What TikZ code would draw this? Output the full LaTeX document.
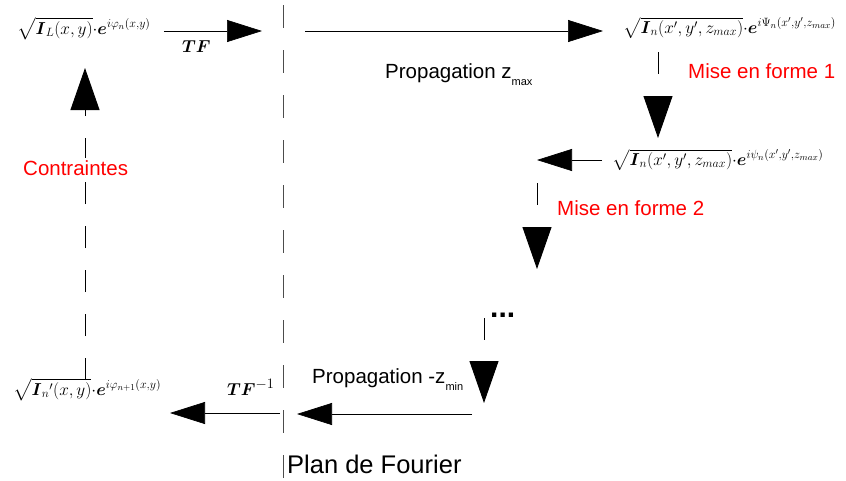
\documentclass[tikz,border=0pt]{standalone}
\usepackage{amsmath,amssymb}
\usepackage{fontspec}
\setmainfont{Liberation Sans}
\usetikzlibrary{arrows.meta,positioning}
\tikzset{
  harrow/.style={-{Triangle[length=35pt,width=22pt]}, line width=0.7pt},
  varrow/.style={-{Triangle[length=42pt,width=29pt]}, line width=0.9pt,
    dash pattern=on 22pt off 22pt},
  fourier/.style={line width=0.9pt, black!70, dash pattern=on 23pt off 22pt},
  fml/.style={inner sep=0pt, anchor=base west, font=\fontsize{18.5}{22}\selectfont},
  fmlr/.style={fml, font=\fontsize{17.3}{20}\selectfont},
  lbl/.style={inner sep=0pt, anchor=base west, font=\fontsize{20.5}{24}\selectfont},
  redlbl/.style={lbl, text=red},
  tfl/.style={inner sep=0pt, anchor=base west, font=\fontsize{19}{22}\selectfont}
}
\newcommand{\lowsub}[1]{\raisebox{-7pt}{\fontsize{11}{12}\selectfont #1}}

\begin{document}
\begin{tikzpicture}[x=1pt, y=-1pt]
  \useasboundingbox (0,0) rectangle (846,480);
  % formulas
  \node[fml] (fL) at (17,34) {$\sqrt{\boldsymbol{I}_L(x,y)}{\cdot}\boldsymbol{e}^{i\varphi_n(x,y)}$};
  \node[fmlr] (fTop) at (623,33) {$\sqrt{\boldsymbol{I}_n(x',y',z_{max})}{\cdot}\boldsymbol{e}^{i\Psi_n(x',y',z_{max})}$};
  \node[fmlr] (fMid) at (612,165) {$\sqrt{\boldsymbol{I}_n(x',y',z_{max})}{\cdot}\boldsymbol{e}^{i\psi_n(x',y',z_{max})}$};
  \node[fml] (fBot) at (13,395) {$\sqrt{\boldsymbol{I}_n{}'(x,y)}{\cdot}\boldsymbol{e}^{i\varphi_{n+1}(x,y)}$};
  % Fourier plane and free ends
  \coordinate (ftop) at (283,5);
  \coordinate (fbot) at (283,478);
  \coordinate (t1) at (262,31);
  \coordinate (t2) at (305,31);
  \coordinate (v1a) at (658,52);
  \coordinate (v1b) at (658,138);
  \coordinate (m1) at (537,160);
  \coordinate (v2a) at (537,183);
  \coordinate (v2b) at (537,269);
  \coordinate (v3a) at (484,318);
  \coordinate (v3b) at (484,403);
  \coordinate (b1) at (472,414);
  \coordinate (b2) at (297,414);
  \coordinate (b3) at (280,413);
  \coordinate (b4) at (170,413);
  \coordinate (ca) at (85,380);
  \coordinate (cb) at (85,68);
  \draw[fourier] (ftop) -- (fbot);
  % connectors
  \draw[harrow] (fL.east |- t1) ++(13,0) -- (t1);
  \draw[harrow, shorten >=20pt] (t2) -- (t2 -| fTop.west);
  \draw[varrow] (v1a) -- (v1b);
  \draw[harrow, shorten <=10pt] (fMid.west |- m1) -- (m1);
  \draw[varrow] (v2a) -- (v2b);
  \draw[varrow] (v3a) -- (v3b);
  \draw[harrow] (b1) -- (b2);
  \draw[harrow] (b3) -- (b4);
  \draw[varrow] (ca) -- (cb);
  % labels
  \node[tfl] (tf) at (182,52) {$\boldsymbol{TF}$};
  \node[tfl] (tfi) at (227,395) {$\boldsymbol{TF}^{-1}$};
  \node[lbl] (prop1) at (385,78) {Propagation z\lowsub{max}};
  \node[lbl] (prop2) at (312,383) {Propagation -z\lowsub{min}};
  \node[redlbl] (mef1) at (688,78) {Mise en forme 1};
  \node[redlbl] (mef2) at (557,215) {Mise en forme 2};
  \node[redlbl, fill=white, inner sep=2pt] (contr) at (21,175) {Contraintes};
  \node[lbl, font=\fontsize{30}{34}\selectfont\bfseries] (dots) at (490,317) {...};
  \node[lbl, font=\fontsize{25.5}{30}\selectfont] (plan) at (287,473) {Plan de Fourier};
\end{tikzpicture}
\end{document}
